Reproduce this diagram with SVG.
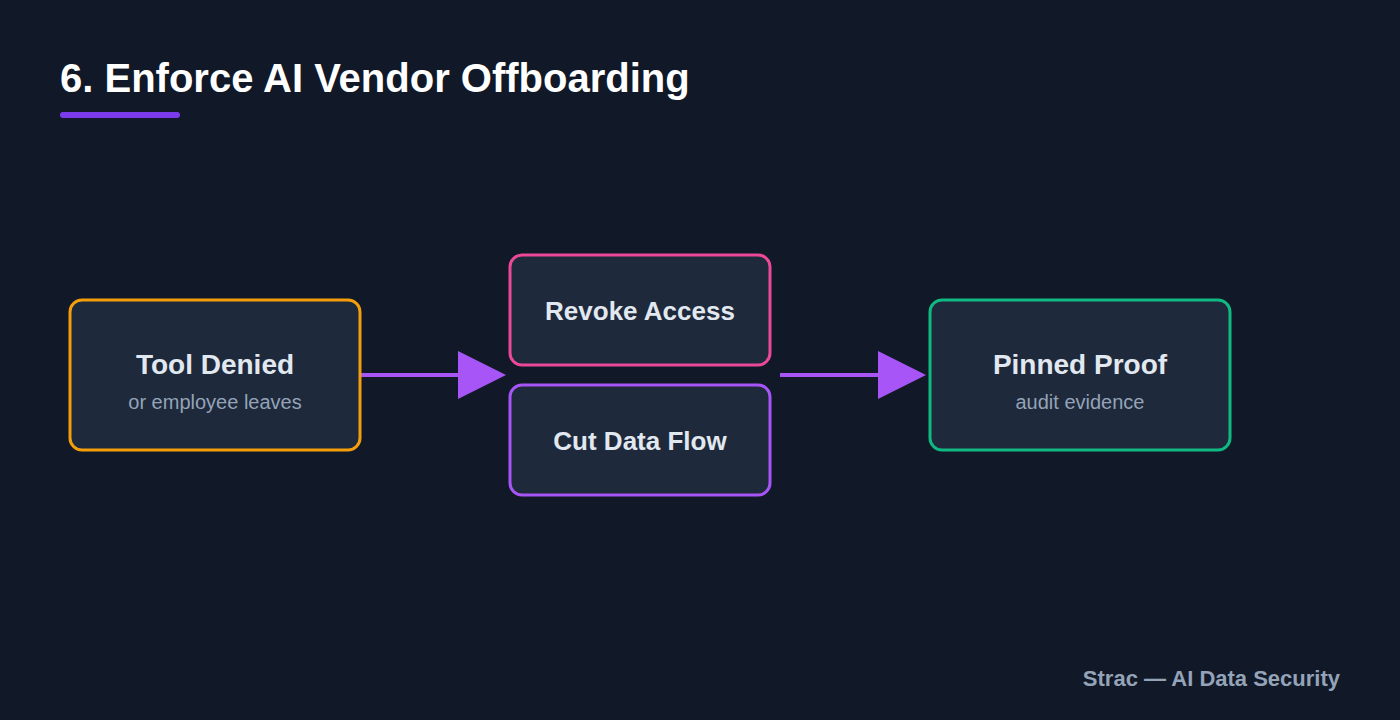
<svg xmlns="http://www.w3.org/2000/svg" width="1400" height="720" viewBox="0 0 1400 720">
<style>
.t{font-family:"Liberation Sans",Arial,sans-serif;font-weight:bold;fill:#e2e8f0;text-anchor:middle}
.s{font-family:"Liberation Sans",Arial,sans-serif;fill:#94a3b8;text-anchor:middle;font-size:20px}
.box{fill:#1e293b;stroke-width:3}
.c{stroke:#a855f7;stroke-width:4;fill:none}
</style>
<defs><marker id="a" markerWidth="12" markerHeight="12" refX="2" refY="6" orient="auto" markerUnits="userSpaceOnUse" viewBox="0 0 12 12"><path d="M0,0L12,6L0,12Z" fill="#a855f7"/></marker>
<marker id="ah" viewBox="0 0 48 48" refX="0" refY="24" markerWidth="48" markerHeight="48" markerUnits="userSpaceOnUse" orient="auto"><path d="M0,0L48,24L0,48Z" fill="#a855f7"/></marker></defs>
<rect width="1400" height="720" fill="#111827"/>
<text x="60" y="92" font-family="Liberation Sans,Arial,sans-serif" font-weight="bold" font-size="40" fill="#ffffff">6. Enforce AI Vendor Offboarding</text>
<rect x="60" y="112" width="120" height="6" rx="3" fill="#7c3aed"/>
<g id="connectors">
<path class="c" d="M360,375H458" marker-end="url(#ah)"/>
<path class="c" d="M780,375H878" marker-end="url(#ah)"/>
</g>
<g id="tool"><rect class="box" x="70" y="300" width="290" height="150" rx="12" stroke="#f59e0b"/><text class="t" x="215" y="374" font-size="28">Tool Denied</text><text class="s" x="215" y="409">or employee leaves</text></g>
<g id="revoke"><rect class="box" x="510" y="255" width="260" height="110" rx="12" stroke="#ec4899"/><text class="t" x="640" y="320" font-size="26">Revoke Access</text></g>
<g id="cut"><rect class="box" x="510" y="385" width="260" height="110" rx="12" stroke="#a855f7"/><text class="t" x="640" y="450" font-size="26">Cut Data Flow</text></g>
<g id="proof"><rect class="box" x="930" y="300" width="300" height="150" rx="12" stroke="#10b981"/><text class="t" x="1080" y="374" font-size="28">Pinned Proof</text><text class="s" x="1080" y="409">audit evidence</text></g>
<text x="1340" y="686" font-family="Liberation Sans,Arial,sans-serif" font-weight="bold" font-size="22" fill="#94a3b8" text-anchor="end">Strac — AI Data Security</text>
</svg>
